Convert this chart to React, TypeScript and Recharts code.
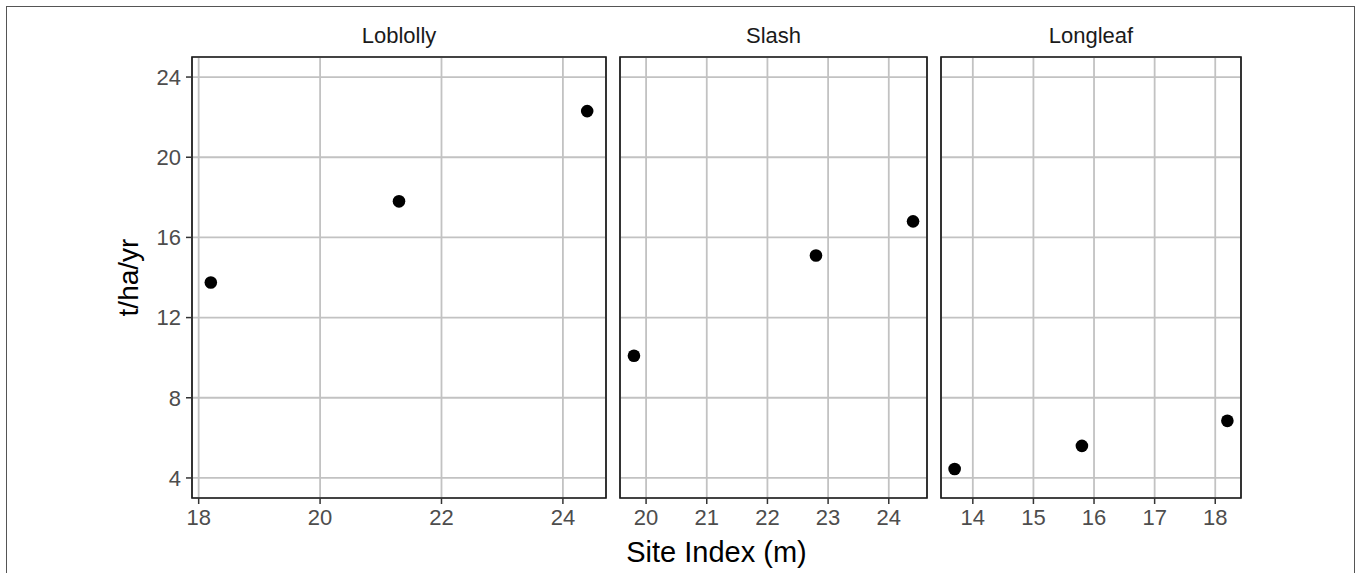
import { ScatterChart, Scatter, XAxis, YAxis, CartesianGrid, ReferenceArea } from 'recharts'

interface Pt {
  x: number
  y: number
}

// site index (m) and production (t/ha/yr) per species
const loblollyX = [18.2, 21.3, 24.4]
const loblollyY = [13.75, 17.8, 22.3]
const slashX = [19.8, 22.8, 24.4]
const slashY = [10.1, 15.1, 16.8]
const longleafX = [13.7, 15.8, 18.2]
const longleafY = [4.45, 5.6, 6.85]

const yTicks = [4, 8, 12, 16, 20, 24]
const loblollyTicks = [18, 20, 22, 24]
const slashTicks = [20, 21, 22, 23, 24]
const longleafTicks = [14, 15, 16, 17, 18]

const toPts = (xs: number[], ys: number[]): Pt[] => xs.map((x, i) => ({ x, y: ys[i] }))

const FONT = '"Liberation Sans", Arial, sans-serif'
const Y_DOMAIN: [number, number] = [3, 25]
const PLOT_TOP = 57
const PLOT_BOTTOM = 498
const H = 573

const Dot = (p: any) => <circle cx={p.cx} cy={p.cy} r={6.3} fill="#000" />

interface PanelProps {
  title: string
  data: Pt[]
  xDomain: [number, number]
  xTicks: number[]
  plotLeft: number
  plotRight: number
  showY?: boolean
}

function Panel({ title, data, xDomain, xTicks, plotLeft, plotRight, showY }: PanelProps) {
  const yWidth = showY ? 128 : 0
  const chartLeft = showY ? 0 : plotLeft - 2
  const marginLeft = showY ? plotLeft - yWidth : 2
  const width = plotRight - chartLeft + 2
  const tick = { fill: '#4d4d4d', fontSize: 22, fontFamily: FONT }

  return (
    <>
      <div
        style={{
          position: 'absolute',
          left: plotLeft,
          width: plotRight - plotLeft,
          top: 23,
          lineHeight: '26px',
          textAlign: 'center',
          fontSize: 22,
          color: '#1a1a1a',
        }}
      >
        {title}
      </div>
      <div style={{ position: 'absolute', left: chartLeft, top: 0 }}>
        <ScatterChart
          width={width}
          height={H}
          margin={{ top: PLOT_TOP, right: 2, bottom: 0, left: marginLeft }}
        >
          <CartesianGrid stroke="#c2c2c2" strokeWidth={1.8} />
          <XAxis
            type="number"
            dataKey="x"
            domain={xDomain}
            ticks={xTicks}
            allowDataOverflow
            height={H - PLOT_BOTTOM}
            axisLine={false}
            tickLine={{ stroke: '#333', strokeWidth: 1.5 }}
            tickSize={6}
            tickMargin={5}
            tick={tick}
          />
          <YAxis
            type="number"
            dataKey="y"
            domain={Y_DOMAIN}
            ticks={yTicks}
            allowDataOverflow
            hide={!showY}
            width={yWidth}
            axisLine={false}
            tickLine={{ stroke: '#333', strokeWidth: 1.5 }}
            tickSize={6}
            tickMargin={5}
            tick={tick}
            label={
              showY
                ? { value: 't/ha/yr', angle: -90, position: 'center', fontSize: 28, fill: '#000', fontFamily: FONT }
                : undefined
            }
          />
          <ReferenceArea
            x1={xDomain[0]}
            x2={xDomain[1]}
            y1={Y_DOMAIN[0]}
            y2={Y_DOMAIN[1]}
            fill="none"
            stroke="#1a1a1a"
            strokeWidth={1.7}
          />
          <Scatter data={data} fill="#000" shape={Dot} isAnimationActive={false} />
        </ScatterChart>
      </div>
    </>
  )
}

export default function App() {
  return (
    <div
      style={{
        position: 'fixed',
        left: 0,
        top: 0,
        width: 1357,
        height: H,
        overflow: 'hidden',
        background: '#fff',
        fontFamily: FONT,
      }}
    >
      <div
        style={{
          position: 'absolute',
          left: 6,
          top: 6,
          width: 1349,
          height: 700,
          boxSizing: 'border-box',
          border: '1.5px solid #555',
        }}
      />
      <Panel
        title="Loblolly"
        data={toPts(loblollyX, loblollyY)}
        xDomain={[17.89, 24.71]}
        xTicks={loblollyTicks}
        plotLeft={192}
        plotRight={606}
        showY
      />
      <Panel
        title="Slash"
        data={toPts(slashX, slashY)}
        xDomain={[19.57, 24.63]}
        xTicks={slashTicks}
        plotLeft={620}
        plotRight={927}
      />
      <Panel
        title="Longleaf"
        data={toPts(longleafX, longleafY)}
        xDomain={[13.475, 18.425]}
        xTicks={longleafTicks}
        plotLeft={941}
        plotRight={1241}
      />
      <div
        style={{
          position: 'absolute',
          left: 192,
          width: 1049,
          top: 536,
          lineHeight: '32px',
          textAlign: 'center',
          fontSize: 29,
          color: '#000',
        }}
      >
        Site Index (m)
      </div>
    </div>
  )
}
